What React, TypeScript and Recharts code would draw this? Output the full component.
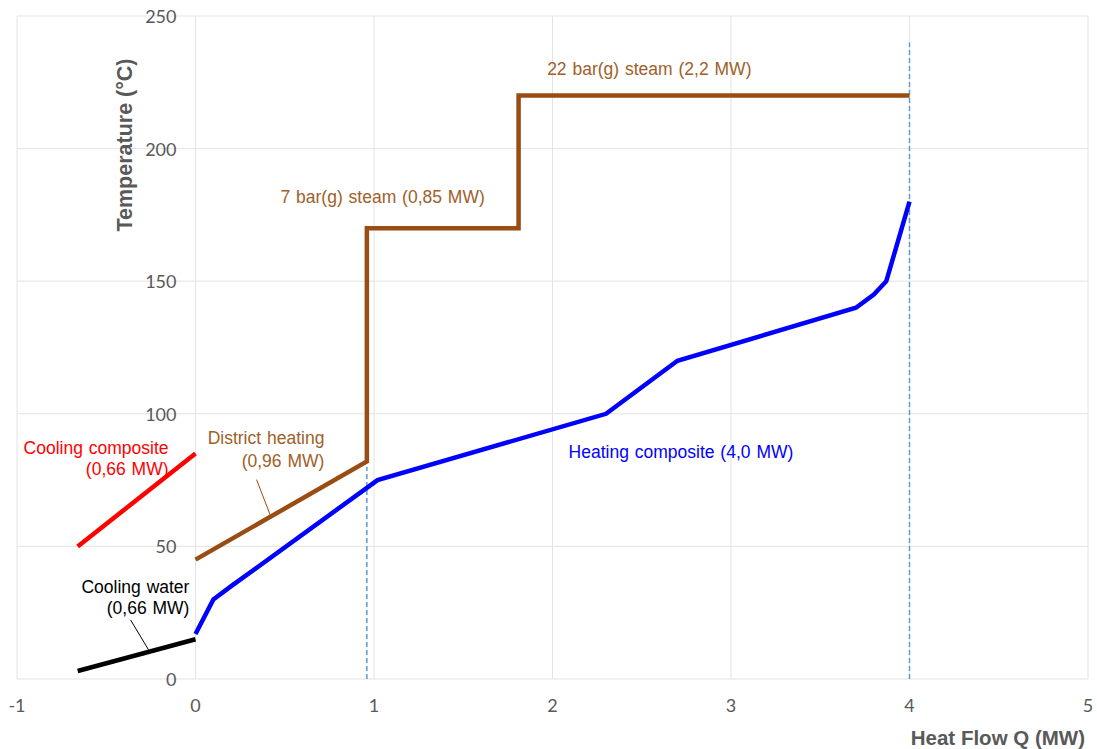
import React from "react";
import {
  ComposedChart,
  Line,
  XAxis,
  YAxis,
  CartesianGrid,
  ReferenceLine,
  ReferenceDot,
} from "recharts";

// Composite curves, Q (MW) vs T (°C)
const coolingComposite = [
  { x: -0.66, y: 50 },
  { x: 0, y: 85 },
];
const coolingWater = [
  { x: -0.66, y: 3 },
  { x: 0, y: 15 },
];
const utilityProfile = [
  { x: 0, y: 45 },
  { x: 0.96, y: 82 },
  { x: 0.96, y: 170 },
  { x: 1.81, y: 170 },
  { x: 1.81, y: 220 },
  { x: 4.0, y: 220 },
];
const heatingComposite = [
  { x: 0, y: 17 },
  { x: 0.1, y: 30 },
  { x: 0.2, y: 35 },
  { x: 1.02, y: 75 },
  { x: 2.3, y: 100 },
  { x: 2.7, y: 120 },
  { x: 3.7, y: 140 },
  { x: 3.8, y: 145 },
  { x: 3.87, y: 150 },
  { x: 4.0, y: 180 },
];

const xTicks = [-1, 0, 1, 2, 3, 4, 5];
const yTicks = [0, 50, 100, 150, 200, 250];

const W = 1097;
const H = 749;
const M = { top: 16, right: 9, left: 16, bottom: 0 };
const Y_AXIS_W = 1;
const X_AXIS_H = 70;
const PLOT_LEFT = M.left + Y_AXIS_W;
const PLOT_W = W - PLOT_LEFT - M.right;
const PLOT_BOTTOM = H - X_AXIS_H;
const ZERO_PX = PLOT_LEFT + ((0 - xTicks[0]) / (xTicks[xTicks.length - 1] - xTicks[0])) * PLOT_W;

const BROWN = "#9A4D12";
const BROWN_TEXT = "#A0602A";
const BLUE = "#0000FF";
const RED = "#FF0000";
const DASH = "#5B9BD5";
const GREY = "#595959";

const TEXT_FONT = "'Liberation Sans', Arial, sans-serif";
const TICK_FONT = "Lato, 'Open Sans', sans-serif";

type Note = { x: number; y: number; text: string; color: string; anchor: "start" | "end" };

const notes: Note[] = [
  { x: 1.97, y: 230, text: "22 bar(g) steam (2,2 MW)", color: BROWN_TEXT, anchor: "start" },
  { x: 0.476, y: 181.6, text: "7 bar(g) steam (0,85 MW)", color: BROWN_TEXT, anchor: "start" },
  { x: 0.722, y: 91, text: "District heating", color: BROWN_TEXT, anchor: "end" },
  { x: 0.722, y: 82.3, text: "(0,96 MW)", color: BROWN_TEXT, anchor: "end" },
  { x: -0.151, y: 87.2, text: "Cooling composite", color: RED, anchor: "end" },
  { x: -0.151, y: 79.3, text: "(0,66 MW)", color: RED, anchor: "end" },
  { x: -0.034, y: 34.7, text: "Cooling water", color: "#000000", anchor: "end" },
  { x: -0.034, y: 26.8, text: "(0,66 MW)", color: "#000000", anchor: "end" },
  { x: 2.09, y: 85.7, text: "Heating composite (4,0 MW)", color: BLUE, anchor: "start" },
];

const renderNote = (n: Note, i: number) => (
  <ReferenceDot
    key={`note-${i}`}
    x={n.x}
    y={n.y}
    r={0}
    fill="none"
    stroke="none"
    label={(p: any) => (
      <text
        x={p.viewBox.x}
        y={p.viewBox.y}
        textAnchor={n.anchor}
        dominantBaseline="central"
        fill={n.color}
        fontFamily={TEXT_FONT}
        fontSize={17.5}
        wordSpacing={1}
      >
        {n.text}
      </text>
    )}
  />
);

const YTick = (props: any) => (
  <text
    x={ZERO_PX - 19}
    y={props.y}
    textAnchor="end"
    dominantBaseline="central"
    fill={GREY}
    fontFamily={TICK_FONT}
    fontSize={18}
  >
    {props.payload.value}
  </text>
);

const XTick = (props: any) => (
  <text
    x={props.x}
    y={PLOT_BOTTOM + 26}
    textAnchor="middle"
    dominantBaseline="central"
    fill={GREY}
    fontFamily={TICK_FONT}
    fontSize={18}
  >
    {props.payload.value}
  </text>
);

const YTitle = () => (
  <text
    x={125}
    y={145}
    transform="rotate(-90 125 145)"
    textAnchor="middle"
    dominantBaseline="central"
    fill={GREY}
    fontFamily={TEXT_FONT}
    fontWeight="bold"
    fontSize={21.5}
  >
    Temperature (°C)
  </text>
);

export default function App() {
  const lineProps = {
    dataKey: "y",
    type: "linear" as const,
    dot: false,
    activeDot: false,
    isAnimationActive: false,
    strokeWidth: 4.5,
  };

  return (
    <div style={{ position: "absolute", left: 0, top: 0, background: "#fff" }}>
      <ComposedChart width={W} height={H} margin={M}>
        <CartesianGrid stroke="#E3E3E3" strokeWidth={1} />
        <XAxis
          type="number"
          dataKey="x"
          domain={[-1, 5]}
          ticks={xTicks}
          allowDataOverflow
          axisLine={false}
          tickLine={false}
          height={X_AXIS_H}
          tick={<XTick />}
          label={() => (
            <text
              x={1085}
              y={737}
              textAnchor="end"
              dominantBaseline="central"
              fill={GREY}
              fontFamily={TEXT_FONT}
              fontWeight="bold"
              fontSize={20.5}
            >
              Heat Flow Q (MW)
            </text>
          )}
        />
        <YAxis
          type="number"
          dataKey="y"
          domain={[0, 250]}
          ticks={yTicks}
          allowDataOverflow
          axisLine={false}
          tickLine={false}
          width={Y_AXIS_W}
          tick={<YTick />}
        />

        {/* pinch / end markers */}
        <ReferenceLine
          segment={[{ x: 0.96, y: 0 }, { x: 0.96, y: 80 }]}
          stroke={DASH}
          strokeWidth={1.5}
          strokeDasharray="5 3"
        />
        <ReferenceLine
          segment={[{ x: 4, y: 0 }, { x: 4, y: 240 }]}
          stroke={DASH}
          strokeWidth={1.5}
          strokeDasharray="5 3"
        />

        <Line data={coolingComposite} stroke={RED} {...lineProps} />
        <Line data={coolingWater} stroke="#000000" {...lineProps} />
        <Line data={utilityProfile} stroke={BROWN} {...lineProps} strokeLinejoin="miter" />
        <Line data={heatingComposite} stroke={BLUE} {...lineProps} />

        {/* leader lines for labels */}
        <ReferenceLine
          segment={[{ x: 0.342, y: 75.2 }, { x: 0.42, y: 61.6 }]}
          stroke={BROWN}
          strokeWidth={1}
        />
        <ReferenceLine
          segment={[{ x: -0.364, y: 22.3 }, { x: -0.263, y: 11 }]}
          stroke="#000000"
          strokeWidth={1}
        />

        {/* axis title anchored beside the y = 200 tick */}
        <ReferenceDot x={-1} y={0} r={0} fill="none" stroke="none" label={<YTitle />} />

        {notes.map(renderNote)}
      </ComposedChart>
    </div>
  );
}
